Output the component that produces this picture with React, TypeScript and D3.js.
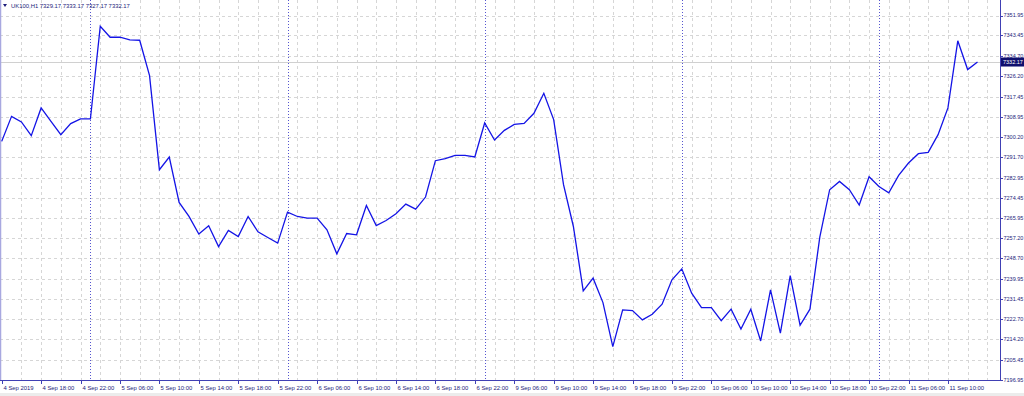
import React from "react";
import * as d3 from "d3";

const closes: number[] = [
  7298.42, 7309.07, 7306.69, 7300.85, 7312.65, 7306.94, 7301.28, 7305.96, 7307.96, 7307.96,
  7347.4, 7342.71, 7342.71, 7341.6, 7341.43, 7326.4, 7286.37, 7291.78, 7272.45, 7266.49,
  7258.99, 7262.53, 7253.71, 7260.53, 7257.97, 7266.49, 7259.97, 7257.55, 7255.16, 7268.36,
  7266.49, 7265.81, 7265.81, 7260.82, 7250.6, 7259.25, 7258.7, 7271.17, 7262.65, 7264.78,
  7267.64, 7271.77, 7269.64, 7274.75, 7290.21, 7291.06, 7292.46, 7292.46, 7291.78, 7306.26,
  7299.02, 7303.11, 7305.66, 7306.09, 7310.35, 7318.86, 7307.67, 7279.99, 7262.23, 7234.85,
  7240.26, 7229.87, 7211.13, 7226.76, 7226.46, 7222.5, 7224.93, 7229.19, 7239.53, 7244.22,
  7233.87, 7227.74, 7227.74, 7222.2, 7227.06, 7218.67, 7227.06, 7213.56, 7235.27, 7216.84,
  7241.36, 7220.24, 7227.06, 7257.72, 7277.86, 7281.39, 7277.86, 7271.34, 7283.39, 7279.26,
  7276.58, 7283.95, 7289.23, 7293.19, 7293.74, 7301.28, 7312.65, 7341.18, 7328.96, 7332.17,
];

const timeLabels: string[] = [
  "4 Sep 2019", "4 Sep 18:00", "4 Sep 22:00", "5 Sep 06:00", "5 Sep 10:00", "5 Sep 14:00",
  "5 Sep 18:00", "5 Sep 22:00", "6 Sep 06:00", "6 Sep 10:00", "6 Sep 14:00", "6 Sep 18:00",
  "6 Sep 22:00", "9 Sep 06:00", "9 Sep 10:00", "9 Sep 14:00", "9 Sep 18:00", "9 Sep 22:00",
  "10 Sep 06:00", "10 Sep 10:00", "10 Sep 14:00", "10 Sep 18:00", "10 Sep 22:00",
  "11 Sep 06:00", "11 Sep 10:00",
];
const labelEvery = 4;

const daySeparators: number[] = [9, 29, 49, 69, 89];

const priceTicks: number[] = [
  7196.95, 7205.45, 7214.2, 7222.7, 7231.45, 7239.95, 7248.7, 7257.2, 7265.95, 7274.45,
  7282.95, 7291.7, 7300.2, 7308.95, 7317.45, 7326.2, 7334.7, 7343.45, 7351.95,
];

const symbol = "UK100,H1";
const ohlc: number[] = [7329.17, 7333.17, 7327.17, 7332.17];
const lastPrice = 7332.17;

const W = 1024;
const H = 396;
const plotRight = 1000;
const plotBottom = 380;
const axisColor = "#4040b4";
const textColor = "#1c1c7a";
const gridColor = "#d6d6d6";
const font = "Liberation Sans, Arial, sans-serif";
const fs = 5.9;
const fsPrice = 5.5;

export default function App() {
  const x = d3.scaleLinear().domain([0, closes.length - 1]).range([1.7, 977.5]);
  const y = d3.scaleLinear().domain([7196.95, 7351.95]).range([380, 15.5]);
  const line = d3
    .line<number>()
    .x((_, i) => x(i))
    .y((d) => y(d));

  const gridBars = d3.range(2, closes.length + 2, 2);

  return (
    <div style={{ position: "fixed", left: 0, top: 0, width: W, height: H, background: "#fff" }}>
      <svg width={W} height={H} style={{ display: "block", fontFamily: font }}>
        <rect x={0} y={0} width={W} height={H} fill="#ffffff" />
        <rect x={0} y={393} width={W} height={3} fill="#ececec" />
        {/* horizontal grid */}
        {priceTicks.map((p) => (
          <line
            key={"h" + p}
            x1={0}
            x2={plotRight}
            y1={Math.round(y(p)) + 0.5}
            y2={Math.round(y(p)) + 0.5}
            stroke={gridColor}
            strokeDasharray="3,3"
            strokeWidth={1}
          />
        ))}
        {/* vertical grid */}
        {gridBars.map((b) => (
          <line
            key={"v" + b}
            x1={Math.round(x(b)) + 0.5}
            x2={Math.round(x(b)) + 0.5}
            y1={0}
            y2={plotBottom}
            stroke={gridColor}
            strokeDasharray="3,3"
            strokeWidth={1}
          />
        ))}
        {/* day separators */}
        {daySeparators.map((b) => (
          <line
            key={"s" + b}
            x1={Math.round(x(b)) + 0.5}
            x2={Math.round(x(b)) + 0.5}
            y1={0}
            y2={plotBottom}
            stroke="#5555d0"
            strokeDasharray="1,2"
            strokeWidth={1}
          />
        ))}
        {/* last price line */}
        <line x1={0} x2={plotRight} y1={Math.round(y(lastPrice)) + 0.5} y2={Math.round(y(lastPrice)) + 0.5} stroke="#d0d0d0" strokeWidth={1} />
        {/* left edge */}
        <line x1={0.5} x2={0.5} y1={0} y2={plotBottom} stroke="#a8a8e0" strokeWidth={1.5} />
        {/* price line */}
        <path d={line(closes) || ""} fill="none" stroke="#1414e6" strokeWidth={1.3} strokeLinejoin="miter" />
        {/* axes */}
        <line x1={plotRight + 0.5} x2={plotRight + 0.5} y1={0} y2={plotBottom + 0.5} stroke={axisColor} strokeWidth={1} />
        <line x1={0} x2={plotRight + 0.5} y1={plotBottom + 0.5} y2={plotBottom + 0.5} stroke={axisColor} strokeWidth={1} />
        {priceTicks.map((p) => (
          <g key={"t" + p}>
            <line x1={plotRight} x2={plotRight + 3} y1={Math.round(y(p)) + 0.5} y2={Math.round(y(p)) + 0.5} stroke={axisColor} />
            <text x={plotRight + 3.5} y={y(p)} dy="0.35em" fontSize={fsPrice} fill={textColor}>
              {p.toFixed(2)}
            </text>
          </g>
        ))}
        {/* last price box */}
        <rect x={plotRight + 1} y={y(lastPrice) - 4.5} width={23} height={9} fill="#0f0f6e" />
        <text x={plotRight + 3} y={y(lastPrice)} dy="0.35em" fontSize={fsPrice} fill="#ffffff">
          {lastPrice.toFixed(2)}
        </text>
        {/* time labels */}
        {timeLabels.map((t, i) => {
          const xi = Math.round(x(i * labelEvery)) + 0.5;
          return (
            <g key={"x" + i}>
              <line x1={xi} x2={xi} y1={plotBottom} y2={plotBottom + 4} stroke={axisColor} />
              <text x={xi + 1} y={389.5} fontSize={fs} fill={textColor}>
                {t}
              </text>
            </g>
          );
        })}
        {/* header */}
        <path d="M3,4 L7,4 L5,7 Z" fill={textColor} />
        <text x={11} y={8} fontSize={fs} fill={textColor}>
          {symbol + "  " + ohlc.map((v) => v.toFixed(2)).join(" ")}
        </text>
      </svg>
    </div>
  );
}
